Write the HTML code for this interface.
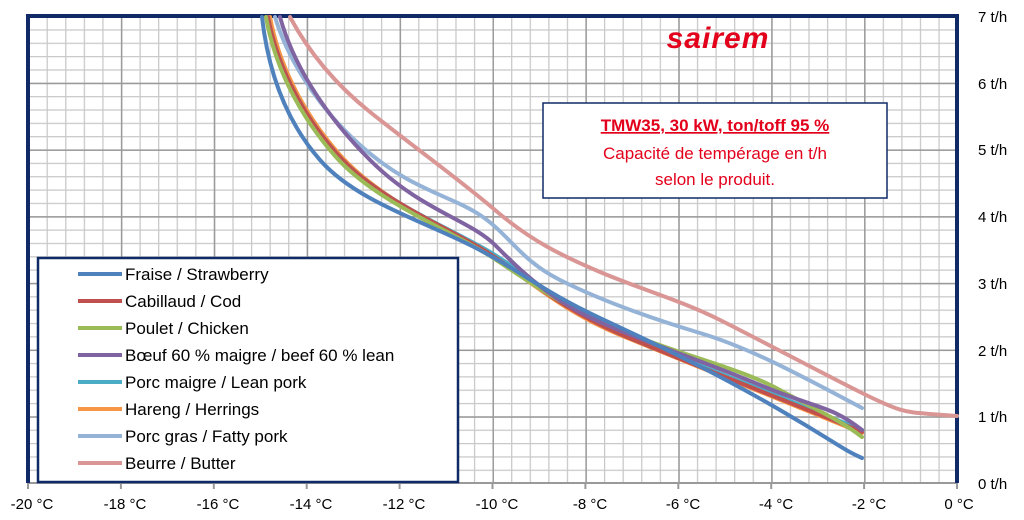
<!DOCTYPE html><html><head><style>body{margin:0;background:#fff}svg{display:block;font-family:"Liberation Sans",sans-serif}</style></head><body>
<svg width="1024" height="520" xmlns="http://www.w3.org/2000/svg">
<defs>
<pattern id="mn" x="28" y="16" width="18.58" height="13.343" patternUnits="userSpaceOnUse">
<path d="M0.6 0V13.343M0 0.6H18.58" stroke="#c8c8c8" stroke-width="1.3" fill="none"/></pattern>
<pattern id="mj" x="28" y="16" width="92.9" height="66.714" patternUnits="userSpaceOnUse">
<path d="M0.7 0V66.714M0 0.7H92.9" stroke="#999" stroke-width="1.5" fill="none"/></pattern>
</defs>
<rect x="28" y="16" width="929" height="467" fill="url(#mn)"/>
<rect x="28" y="16" width="929" height="467" fill="url(#mj)"/>
<line x1="28" y1="483" x2="957" y2="483" stroke="#999" stroke-width="2"/>
<g stroke="#999" stroke-width="2">
<line x1="28" y1="483" x2="28" y2="489"/><line x1="120.9" y1="483" x2="120.9" y2="489"/><line x1="213.8" y1="483" x2="213.8" y2="489"/><line x1="306.7" y1="483" x2="306.7" y2="489"/><line x1="399.6" y1="483" x2="399.6" y2="489"/><line x1="492.5" y1="483" x2="492.5" y2="489"/><line x1="585.4" y1="483" x2="585.4" y2="489"/><line x1="678.3" y1="483" x2="678.3" y2="489"/><line x1="771.2" y1="483" x2="771.2" y2="489"/><line x1="864.1" y1="483" x2="864.1" y2="489"/><line x1="957" y1="483" x2="957" y2="489"/>
</g>
<g font-size="15" text-anchor="middle" fill="#000">
<text x="32" y="509">-20 °C</text><text x="125" y="509">-18 °C</text><text x="218" y="509">-16 °C</text><text x="311" y="509">-14 °C</text><text x="404" y="509">-12 °C</text><text x="497" y="509">-10 °C</text><text x="590" y="509">-8 °C</text><text x="683" y="509">-6 °C</text><text x="776" y="509">-4 °C</text><text x="869" y="509">-2 °C</text><text x="959" y="509">0 °C</text>
</g>
<g font-size="15" fill="#000">
<text x="978" y="489">0 t/h</text><text x="978" y="422">1 t/h</text><text x="978" y="356">2 t/h</text><text x="978" y="289">3 t/h</text><text x="978" y="222">4 t/h</text><text x="978" y="155">5 t/h</text><text x="978" y="89">6 t/h</text><text x="978" y="22">7 t/h</text>
</g>
<path d="M28 483V16H957V483" fill="none" stroke="#0f2a66" stroke-width="4"/>
<g fill="none" stroke-width="4" stroke-linejoin="round" stroke-linecap="round">
<path stroke="#D99694" d="M290 17C305 45 330 80 370 112S460 180 495 210S560 255 600 272S680 300 720 320S820 372 860 392S905 412 930 414L957 416"/>
<path stroke="#95B3D7" d="M275 17C285 50 310 100 360 145S450 195 480 215S520 260 560 280S650 318 700 333S800 375 862 408"/>
<path stroke="#F79646" d="M270 17C278 60 300 110 340 155S450 230 490 255S560 310 620 335S760 392 862 433"/>
<path stroke="#4BACC6" d="M268 17C276 60 298 110 338 155S450 228 490 252S560 305 620 332S760 388 862 430"/>
<path stroke="#C0504D" d="M268 17C276 60 298 110 338 155S450 228 490 254S560 308 620 334S760 390 862 432"/>
<path stroke="#9BBB59" d="M266 17C274 62 296 112 336 157S450 230 490 256S560 305 620 330S740 368 780 390S840 420 862 437"/>
<path stroke="#8064A2" d="M280 17C292 60 320 110 370 160S470 220 495 245S550 300 600 322S700 360 760 385S830 405 862 430"/>
<path stroke="#4F81BD" d="M262 17C268 70 285 120 320 160S420 220 470 245S540 290 600 318S720 375 780 410S840 448 862 458"/>
</g>
<text x="718" y="48" font-size="30" font-style="italic" font-weight="bold" fill="#e3001b" text-anchor="middle" letter-spacing="1">sairem</text>
<rect x="543" y="103" width="344" height="95" fill="#fff" stroke="#0f2a66" stroke-width="1.5"/>
<text x="715" y="131" font-size="17" font-weight="bold" fill="#e3001b" text-anchor="middle" text-decoration="underline">TMW35, 30 kW, ton/toff 95 %</text>
<text x="715" y="159" font-size="17" fill="#e3001b" text-anchor="middle">Capacité de tempérage en t/h</text>
<text x="715" y="185" font-size="17" fill="#e3001b" text-anchor="middle">selon le produit.</text>
<rect x="38" y="258" width="420" height="224" fill="#fff" stroke="#0f2a66" stroke-width="2.5"/>
<g font-size="17" fill="#000" stroke-width="4">
<line x1="78" y1="274" x2="122" y2="274" stroke="#4F81BD"/><text x="125" y="280">Fraise / Strawberry</text>
<line x1="78" y1="301" x2="122" y2="301" stroke="#C0504D"/><text x="125" y="307">Cabillaud / Cod</text>
<line x1="78" y1="328" x2="122" y2="328" stroke="#9BBB59"/><text x="125" y="334">Poulet / Chicken</text>
<line x1="78" y1="355" x2="122" y2="355" stroke="#8064A2"/><text x="125" y="361">Bœuf 60 % maigre / beef 60 % lean</text>
<line x1="78" y1="382" x2="122" y2="382" stroke="#4BACC6"/><text x="125" y="388">Porc maigre / Lean pork</text>
<line x1="78" y1="409" x2="122" y2="409" stroke="#F79646"/><text x="125" y="415">Hareng / Herrings</text>
<line x1="78" y1="436" x2="122" y2="436" stroke="#95B3D7"/><text x="125" y="442">Porc gras / Fatty pork</text>
<line x1="78" y1="463" x2="122" y2="463" stroke="#D99694"/><text x="125" y="469">Beurre / Butter</text>
</g>
</svg></body></html>
